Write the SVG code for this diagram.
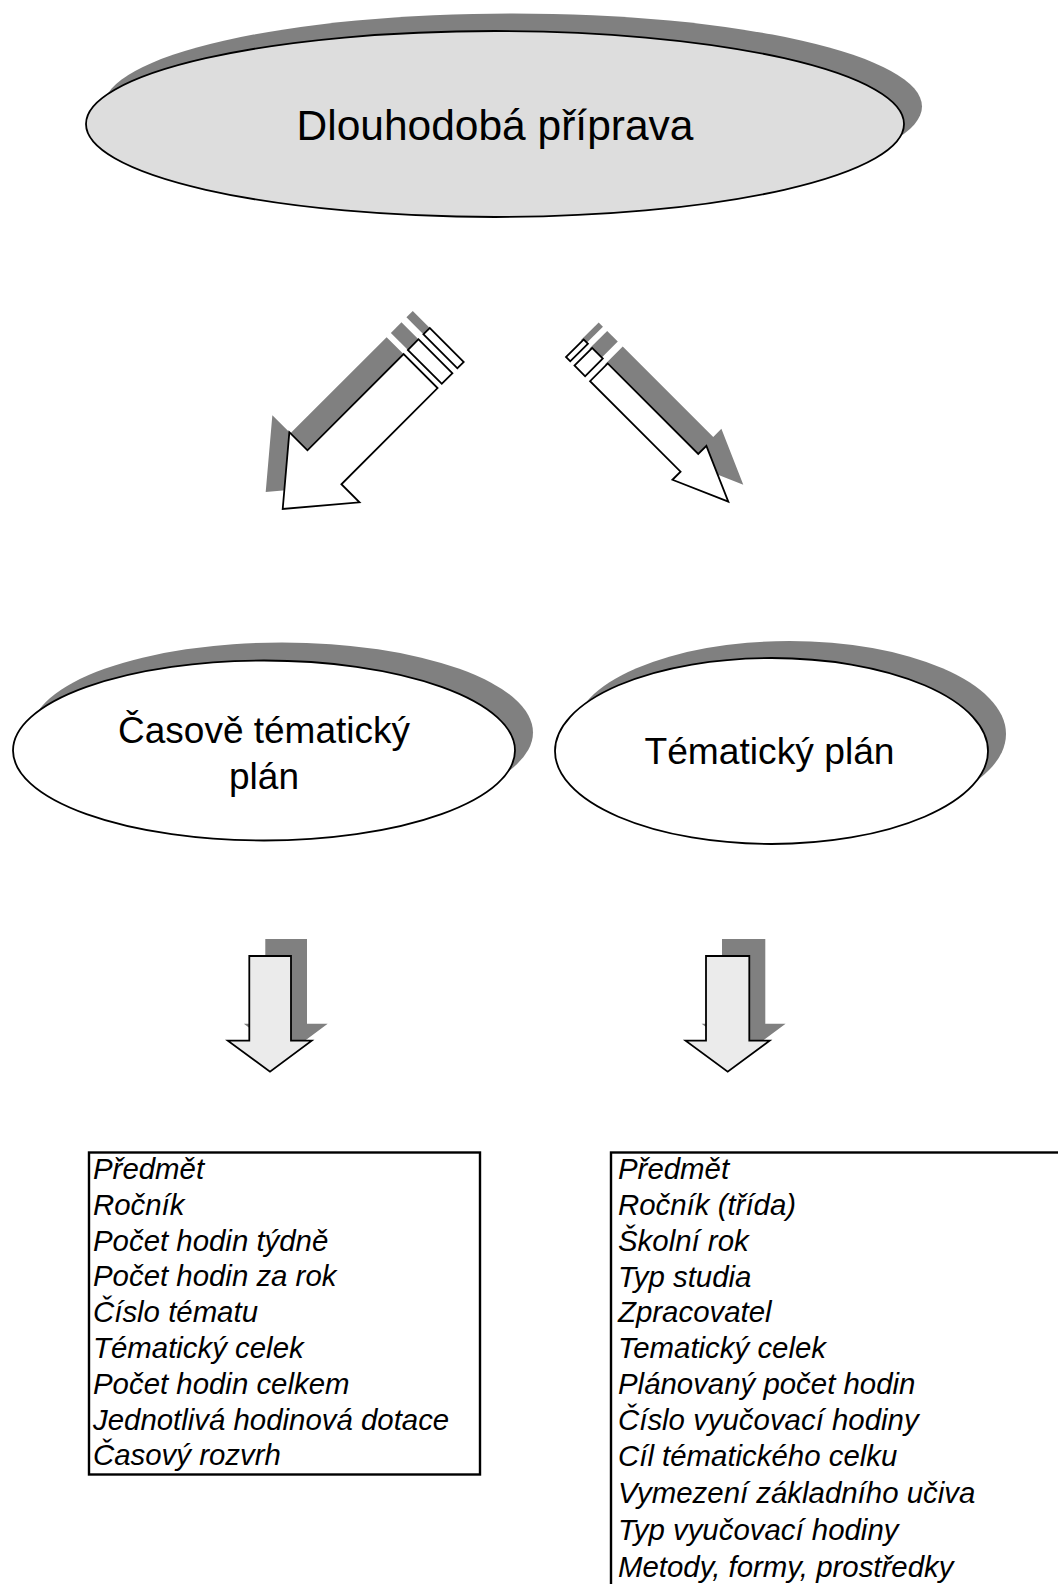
<svg xmlns="http://www.w3.org/2000/svg" xmlns:xlink="http://www.w3.org/1999/xlink" width="1058" height="1584" viewBox="0 0 1058 1584">
<style>
.shadow{fill:#808080;stroke:none}
.oval{stroke:#000;stroke-width:1.8}
.arr{fill:#fff;stroke:#000;stroke-width:1.8;stroke-linejoin:miter}
.down{fill:#ebebeb;stroke:#000;stroke-width:1.8}
.title{font-family:"Liberation Sans",Arial,sans-serif;fill:#000;text-anchor:middle}
.item{font-family:"Liberation Sans",Arial,sans-serif;font-style:italic;font-size:29.4px;fill:#000}
.box{fill:#fff;stroke:#000;stroke-width:2.4}
</style>
<defs>
<g id="arrowL">
<polygon points="0,0 -59,49.6 -59,24 -195,24 -195,-24 -59,-24 -59,-49.6"/>
<rect x="-216" y="-24" width="15" height="48"/>
<rect x="-232" y="-24" width="9" height="48"/>
</g>
<g id="arrowR">
<polygon points="0,0 -55,24 -55,12.5 -183,12.5 -183,-12.5 -55,-12.5 -55,-24"/>
<rect x="-205" y="-12.5" width="15" height="25"/>
<rect x="-217" y="-12.5" width="6" height="25"/>
</g>
<polygon id="downL" points="249.3,956 291,956 291,1040.7 311.7,1040.7 270,1071.7 227.8,1040.7 249.3,1040.7"/>
<polygon id="downR" points="706,956 749.3,956 749.3,1040.7 769.6,1040.7 727.7,1071.7 685.6,1040.7 706,1040.7"/>
</defs>

<g id="node-dlouhodoba">
<ellipse class="shadow" cx="513" cy="106.5" rx="409" ry="93"/>
<ellipse class="oval" fill="#dddddd" cx="495" cy="124" rx="409" ry="93"/>
<text class="title" x="495" y="140" font-size="42.5">Dlouhodobá příprava</text>
</g>

<g id="connectors">
<g id="arrow-left-diag">
<use xlink:href="#arrowL" class="shadow" transform="translate(265.7,492) rotate(135)"/>
<use xlink:href="#arrowL" class="arr" transform="translate(282.7,509) rotate(135)"/>
</g>
<g id="arrow-right-diag">
<use xlink:href="#arrowR" class="shadow" transform="translate(743.3,484.7) rotate(45)"/>
<use xlink:href="#arrowR" class="arr" transform="translate(728.3,501.7) rotate(45)"/>
</g>
<g id="arrow-left-down">
<use xlink:href="#downL" class="shadow" transform="translate(16,-17)"/>
<use xlink:href="#downL" class="down"/>
</g>
<g id="arrow-right-down">
<use xlink:href="#downR" class="shadow" transform="translate(16,-17)"/>
<use xlink:href="#downR" class="down"/>
</g>
</g>

<g id="node-casove">
<ellipse class="shadow" cx="282" cy="732.5" rx="251" ry="90"/>
<ellipse class="oval" fill="#fff" cx="264" cy="750.5" rx="251" ry="90"/>
<text class="title" x="264" y="743" font-size="37">Časově tématický</text>
<text class="title" x="264" y="789" font-size="37">plán</text>
</g>

<g id="node-tematicky">
<ellipse class="shadow" cx="789.5" cy="734" rx="216.5" ry="93"/>
<ellipse class="oval" fill="#fff" cx="771.5" cy="751" rx="216.5" ry="93"/>
<text class="title" x="769.5" y="764" font-size="37.2">Tématický plán</text>
</g>

<g id="node-list-left">
<rect class="box" x="89" y="1152.5" width="391" height="322"/>
<text class="item" x="93" y="1179">Předmět</text>
<text class="item" x="93" y="1214.8">Ročník</text>
<text class="item" x="93" y="1250.6">Počet hodin týdně</text>
<text class="item" x="93" y="1286.4">Počet hodin za rok</text>
<text class="item" x="93" y="1322.2">Číslo tématu</text>
<text class="item" x="93" y="1358">Tématický celek</text>
<text class="item" x="93" y="1393.8">Počet hodin celkem</text>
<text class="item" x="93" y="1429.6">Jednotlivá hodinová dotace</text>
<text class="item" x="93" y="1465.4">Časový rozvrh</text>
</g>

<g id="node-list-right">
<rect class="box" x="611" y="1152.5" width="470" height="460"/>
<text class="item" x="618" y="1179">Předmět</text>
<text class="item" x="618" y="1215">Ročník (třída)</text>
<text class="item" x="618" y="1250.5">Školní rok</text>
<text class="item" x="618" y="1286.5">Typ studia</text>
<text class="item" x="618" y="1322">Zpracovatel</text>
<text class="item" x="618" y="1358">Tematický celek</text>
<text class="item" x="618" y="1393.5">Plánovaný počet hodin</text>
<text class="item" x="618" y="1429.5">Číslo vyučovací hodiny</text>
<text class="item" x="618" y="1465.5">Cíl tématického celku</text>
<text class="item" x="618" y="1503">Vymezení základního učiva</text>
<text class="item" x="618" y="1540">Typ vyučovací hodiny</text>
<text class="item" x="618" y="1577">Metody, formy, prostředky</text>
</g>
</svg>
